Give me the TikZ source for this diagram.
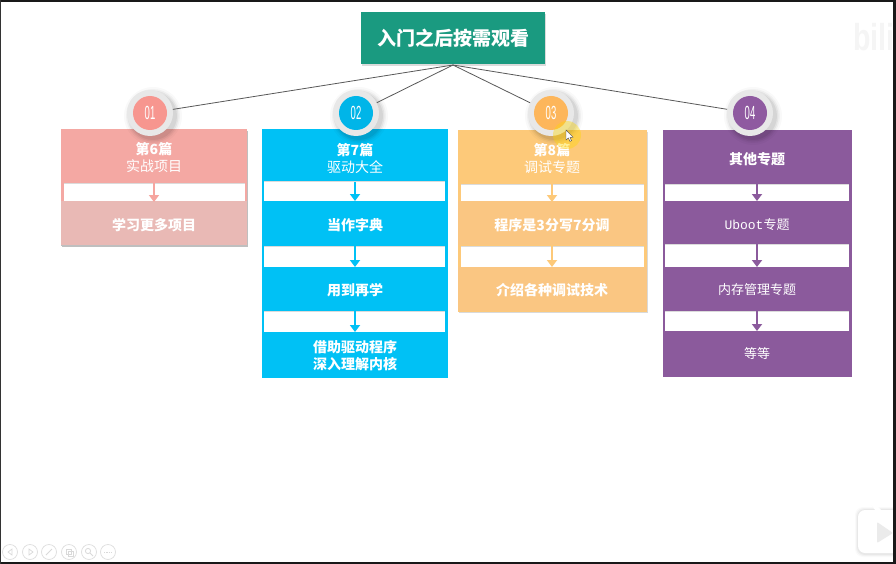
\documentclass[tikz,border=0pt]{standalone}
\usepackage{fontspec}
\setmainfont{Noto Sans CJK SC}
\newfontfamily\latinmono{Liberation Mono}
\newfontfamily\latinsans{Liberation Sans}
\usetikzlibrary{arrows.meta}
\definecolor{cA}{HTML}{F4A8A3}\definecolor{cAl}{HTML}{E9B9B5}\definecolor{cAd}{HTML}{F6A59F}
\definecolor{cB}{HTML}{00C1F5}
\definecolor{cC}{HTML}{FDC979}\definecolor{cCl}{HTML}{FAC682}
\definecolor{cD}{HTML}{8B5A9C}
\definecolor{teal1}{HTML}{1A9A80}
\tikzset{
  x=1pt,y=-1pt,
  bar/.style={fill=#1,draw=none,inner sep=0pt,anchor=north west},
  gapw/.style={fill=white,draw=none},
  lnk/.style={draw=#1,line width=2.4pt,-{Triangle[length=7pt,width=10pt]}},
  spoke/.style={draw=black!65,line width=.8pt},
  ringo/.style={circle,minimum size=46pt,inner sep=0pt,fill=black!9},
  dot/.style={circle,minimum size=34pt,inner sep=0pt,fill=#1,text=white,font=\latinsans\fontsize{19}{19}\selectfont},
  ctl/.style={draw=black!13,line width=.7pt,fill=white},
  head/.style={text=white,font=\fontsize{14}{17}\selectfont,align=center,inner sep=0pt},
  body/.style={text=white,font=\bfseries\fontsize{14}{17}\selectfont,align=center,inner sep=0pt},
  thin body/.style={text=white,font=\fontsize{13}{17}\selectfont,align=center,inner sep=0pt},
  gapshade/.style={draw=black!14,line width=1pt},
}
\newcommand{\nr}[1]{\scalebox{.5}[1]{#1}}
\newcommand{\gapbox}[4]{\fill[gapw] (#1,#2) rectangle (#3,#4); \draw[gapshade] (#1,#2+.5) -- (#3,#2+.5);}
\begin{document}
\begin{tikzpicture}
\useasboundingbox (0,0) rectangle (896,564);
\fill[white] (0,0) rectangle (896,564);
% screen frame
\fill[black!90] (0,0) rectangle (896,2);
\fill[black!90] (0,562) rectangle (896,564);
\fill[black!80] (0,0) rectangle (1,564);
\fill[black!90] (893,0) rectangle (896,564);
% root
\fill[black!14] (362,14) rectangle (546,66);
\node[fill=teal1,text=white,inner sep=0pt,minimum width=184pt,minimum height=52pt,font=\bfseries\fontsize{19}{20}\selectfont] (root) at (453,38) {\raisebox{-1pt}{入门之后按需观看}};
% coloured column backings
\fill[black!25] (62,131) rectangle (248,247);
\node[bar=cA,minimum width=186pt,minimum height=116pt] (bgA) at (61,129) {};
\node[bar=cB,minimum width=186pt,minimum height=249pt] (bgB) at (262,129) {};
\fill[black!15] (459,132) rectangle (648,313);
\node[bar=cC,minimum width=189pt,minimum height=182pt] (bgC) at (458,130) {};
\node[bar=cD,minimum width=189pt,minimum height=247pt] (bgD) at (663,130) {};
% column 1
\gapbox{64}{183}{245}{201}
\fill[cAl] (61,201) rectangle (247,245);
\fill[black!25] (61,245) rectangle (247,246);
\node[head] (a1) at (154,158) {\textbf{第6篇}\\实战项目};
\node[body] (a2) at (154,225) {学习更多项目};
\draw[lnk=cAd] (a1 |- 0,183) -- (a2 |- 0,202);
% column 2
\gapbox{264}{181}{445}{201}
\gapbox{264}{246}{445}{267}
\gapbox{264}{311}{445}{332}
\node[head] (b1) at (355,158) {\textbf{第7篇}\\驱动大全};
\node[body] (b2) at (355,225) {当作字典};
\node[body] (b3) at (355,290) {用到再学};
\node[body,align=center] (b4) at (355,356) {借助驱动程序\\深入理解内核};
\draw[lnk=cB] (b1 |- 0,182) -- (b2 |- 0,201);
\draw[lnk=cB] (b2 |- 0,246) -- (b3 |- 0,267);
\draw[lnk=cB] (b3 |- 0,310) -- (b4 |- 0,332);
% column 3
\gapbox{461}{184}{644}{201}
\gapbox{461}{246}{644}{267}
\fill[cCl] (458,201) rectangle (647,245);
\fill[cCl] (458,267) rectangle (647,311);
\node[head] (c1) at (552,159) {\textbf{第8篇}\\调试专题};
\node[body] (c2) at (552,225) {程序是3分写7分调};
\node[body] (c3) at (552,290) {介绍各种调试技术};
\draw[lnk=cC] (c1 |- 0,184) -- (c2 |- 0,202);
\draw[lnk=cC] (c2 |- 0,245) -- (c3 |- 0,267);
% column 4
\gapbox{665}{184}{849}{201}
\gapbox{665}{244}{849}{267}
\gapbox{665}{311}{849}{331}
\node[body] (d1) at (757,159) {其他专题};
\node[thin body] (d2) at (757,225) {{\latinmono Uboot}专题};
\node[thin body] (d3) at (757,290) {内存管理专题};
\node[thin body] (d4) at (757,354) {等等};
\draw[lnk=cD] (d1 |- 0,184) -- (d2 |- 0,201);
\draw[lnk=cD] (d2 |- 0,244) -- (d3 |- 0,267);
\draw[lnk=cD] (d3 |- 0,311) -- (d4 |- 0,331);
% badges
\foreach \n/\x/\c/\t in {1/150/F7968F/01,2/356/00B5E8/02,3/551/FDB65B/03,4/750/8F5AA0/04}{
  \foreach \r/\o in {29/.025,27/.035,25.5/.05,24/.06}
    \fill[black,opacity=\o] (\x+3,116) circle[radius=\r];
  \definecolor{tmpc}{HTML}{\c}
  \node[ringo] (ring\n) at (\x,113) {};
  \node[dot=tmpc] (dot\n) at (\x,113) {\nr{\t}};
}
% spokes
\coordinate (hub) at (453,65);
\draw[spoke] (hub) -- (ring1);
\draw[spoke] (hub) -- (ring2);
\draw[spoke] (hub) -- (ring3);
\draw[spoke] (hub) -- (ring4);
% pointer highlight
\fill[yellow!75!orange,opacity=.4] (567,135) circle[radius=14];
\filldraw[fill=white,draw=black!70,line width=.4pt] (566,130) -- (566,140) -- (568.4,138) -- (570,141.5) -- (571.5,140.7) -- (570,137.5) -- (573,137.2) -- cycle;
% slide-show controls
\foreach \x in {10,30,49,69,89,108}
  \draw[ctl] (\x,552) circle[radius=7.5];
\draw[black!15,line width=.7pt] (12,549) -- (8,552) -- (12,555) -- cycle;
\draw[black!15,line width=.7pt] (29,549) -- (33,552) -- (29,555) -- cycle;
\draw[black!15,line width=1pt] (46,555) -- (52,549);
\draw[black!15,line width=.7pt] (66,549) rectangle (71,554) (68,551) rectangle (73,556);
\draw[black!15,line width=.8pt] (88,551) circle[radius=2.6] (90,553) -- (93,556);
\draw[black!15,line width=.8pt,dash pattern=on 1.3pt off 1pt] (104,552) -- (112,552);
% watermark
\node[text=black!4,font=\latinsans\bfseries\fontsize{30}{30}\selectfont,inner sep=0pt] (wm) at (874,37) {\scalebox{.95}[1.25]{bili}};
% tv icon
\foreach \d/\o in {3/.02,2/.03,1/.04}
  \fill[black,opacity=\o,rounded corners=8pt] (858-\d,510-\d) rectangle (905,554+\d);
\fill[white,rounded corners=7pt] (858,510) rectangle (905,553);
\foreach \d/\o in {1.5/.03,.7/.04}
  \draw[black,opacity=\o,line width=\d pt] (872,505) -- (877,510);
\fill[white] (871,505) -- (874,503) -- (881,510) -- (876,511) -- cycle;
\fill[black!8,rounded corners=1pt] (877,522) -- (893,533) -- (877,543) -- cycle;
\fill[black!90] (893,490) rectangle (896,564);
\end{tikzpicture}
\end{document}
